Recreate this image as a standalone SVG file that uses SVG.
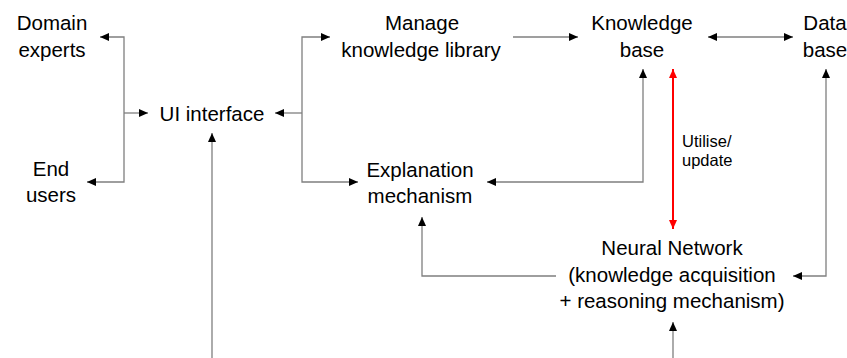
<svg xmlns="http://www.w3.org/2000/svg" width="847" height="358" viewBox="0 0 847 358">
<style>
text{font-family:"Liberation Sans",Arial,sans-serif;font-size:20.5px;fill:#000;text-anchor:middle}
.small{font-size:16.5px;text-anchor:start}
.ln{fill:none;stroke:#7f7f7f;stroke-width:1.3}
.red{fill:none;stroke:#ff0000;stroke-width:2}
</style>
<defs>
<marker id="ah" markerUnits="userSpaceOnUse" markerWidth="10" markerHeight="8" refX="9" refY="4" orient="auto-start-reverse" viewBox="0 0 10 8"><path d="M0,0 L9,4 L0,8 Z" fill="#000"/></marker>
<marker id="ahr" markerUnits="userSpaceOnUse" markerWidth="10" markerHeight="8" refX="9" refY="4" orient="auto-start-reverse" viewBox="0 0 10 8"><path d="M0,0 L9,4 L0,8 Z" fill="#ff0000"/></marker>
</defs>
<rect width="847" height="358" fill="#fff"/>
<g id="connectors">
<path class="ln" d="M124,113 H148" marker-end="url(#ah)"/>
<path class="ln" d="M124,113 V37 H100" marker-end="url(#ah)"/>
<path class="ln" d="M124,113 V182 H87" marker-end="url(#ah)"/>
<path class="ln" d="M302,113 H275" marker-end="url(#ah)"/>
<path class="ln" d="M302,113 V37 H330" marker-end="url(#ah)"/>
<path class="ln" d="M302,113 V182 H358" marker-end="url(#ah)"/>
<path class="ln" d="M513,37 H578" marker-end="url(#ah)"/>
<path class="ln" d="M708,37 H793" marker-start="url(#ah)" marker-end="url(#ah)"/>
<path class="ln" d="M487,182 H643 V69" marker-start="url(#ah)" marker-end="url(#ah)"/>
<path class="red" d="M673,69 V229" marker-start="url(#ahr)" marker-end="url(#ahr)"/>
<path class="ln" d="M826,69 V276 H793" marker-start="url(#ah)" marker-end="url(#ah)"/>
<path class="ln" d="M556,276 H422 V217" marker-end="url(#ah)"/>
<path class="ln" d="M212,358 V133" marker-end="url(#ah)"/>
<path class="ln" d="M673,358 V322" marker-end="url(#ah)"/>
<text class="small" x="682" y="147">Utilise/</text>
<text class="small" x="682" y="166">update</text>
</g>
<g id="domain-experts"><text x="52" y="30">Domain</text><text x="52" y="57">experts</text></g>
<g id="end-users"><text x="51" y="176">End</text><text x="51" y="202">users</text></g>
<g id="ui-interface"><text x="212" y="121">UI interface</text></g>
<g id="manage-library"><text x="422" y="30">Manage</text><text x="421" y="57">knowledge library</text></g>
<g id="knowledge-base"><text x="642" y="30">Knowledge</text><text x="642" y="57">base</text></g>
<g id="data-base"><text x="825" y="30">Data</text><text x="825" y="57">base</text></g>
<g id="explanation"><text x="420" y="177">Explanation</text><text x="420" y="203">mechanism</text></g>
<g id="neural-network"><text x="672" y="255">Neural Network</text><text x="672" y="282">(knowledge acquisition</text><text x="672" y="308">+ reasoning mechanism)</text></g>
</svg>
